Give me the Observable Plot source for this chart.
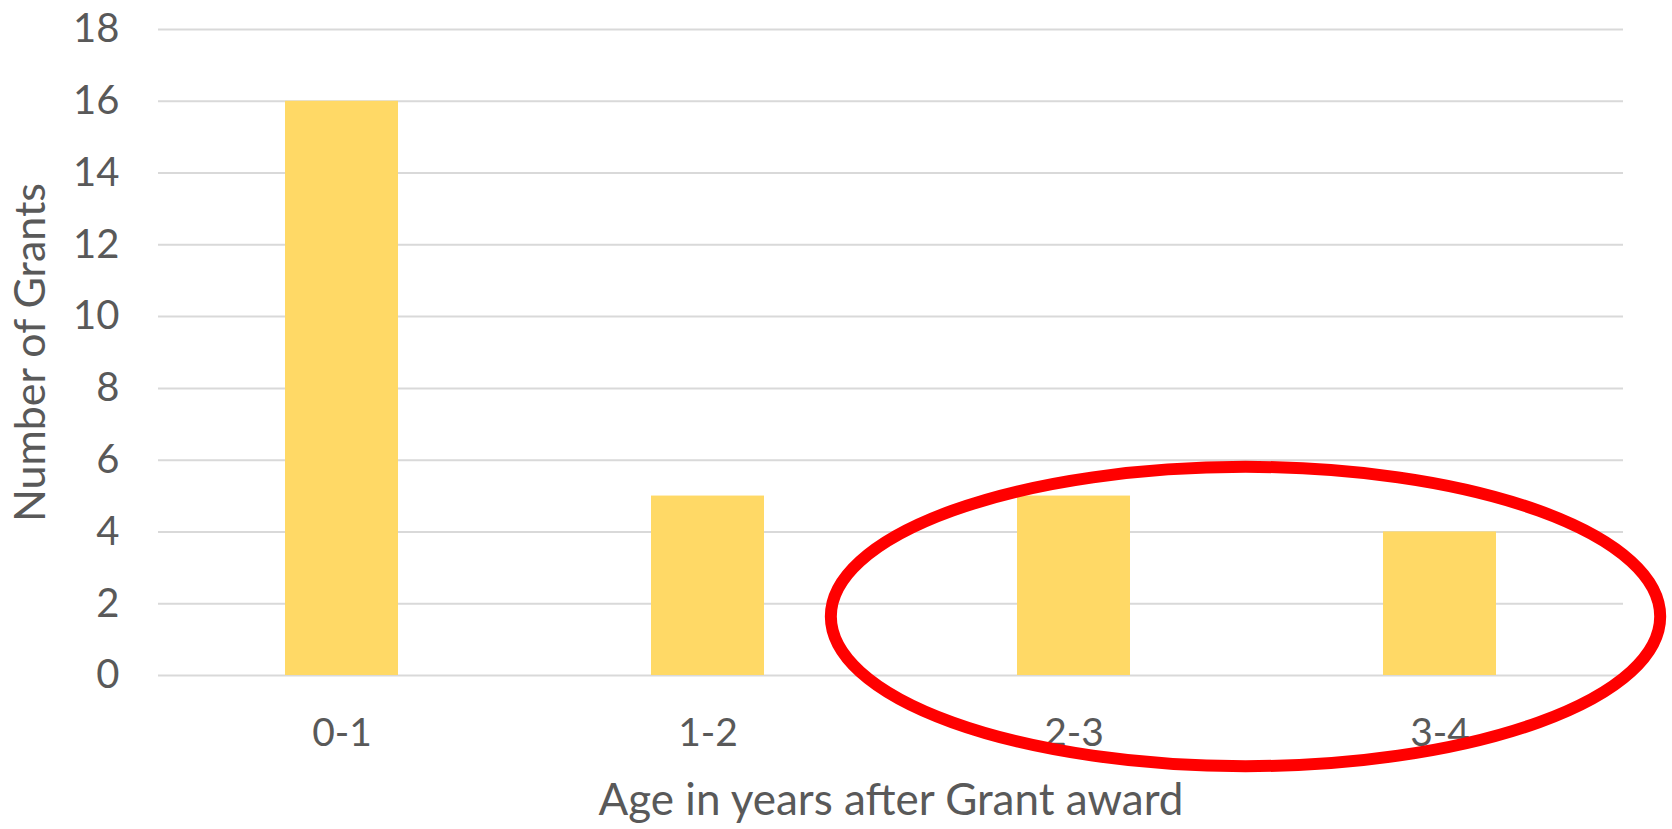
<!DOCTYPE html>
<html>
<head>
<meta charset="utf-8">
<script src="https://cdn.jsdelivr.net/npm/d3@7"></script>
<script src="https://cdn.jsdelivr.net/npm/@observablehq/plot@0.6"></script>
<style>
  html, body { margin: 0; padding: 0; background: #fff; }
  #chart svg { display: block; }
</style>
</head>
<body>
<div id="chart"></div>
<script>
// ---- data ----
const categories = ["0-1", "1-2", "2-3", "3-4"];
const grants = [16, 5, 5, 4];
const yTicks = [0, 2, 4, 6, 8, 10, 12, 14, 16, 18];
const xTitle = "Age in years after Grant award";
const yTitle = "Number of Grants";
// highlighted categories (red ring annotation)
const highlighted = ["2-3", "3-4"];
const ringCenterValue = 1.63;
const ringRadiusValue = 4.17;

const rows = categories.map((c, i) => ({ age: c, count: grants[i] }));

const textColor = "#595959";
const font = "Lato, 'Open Sans', sans-serif";

function ring(index, scales, values, dimensions) {
  const x = scales.x, y = scales.y;
  const bw = x.bandwidth ? x.bandwidth() : 0;
  const step = x.step ? x.step() : 366;
  const c0 = x(highlighted[0]) + bw / 2;
  const c1 = x(highlighted[highlighted.length - 1]) + bw / 2;
  const cx = (c0 + c1) / 2 - 0.03 * step;
  const rx = (c1 - c0) / 2 + 0.633 * step;
  const cy = y(ringCenterValue);
  const ry = Math.abs(y(ringCenterValue + ringRadiusValue) - cy);
  const g = d3.create("svg:g");
  g.append("ellipse")
    .attr("cx", cx).attr("cy", cy).attr("rx", rx).attr("ry", ry)
    .attr("fill", "none").attr("stroke", "#ff0000").attr("stroke-width", 12);
  return g.node();
}

const plot = Plot.plot({
  width: 1672,
  height: 829,
  marginLeft: 158,
  marginRight: 49,
  marginTop: 29,
  marginBottom: 154,
  style: { fontFamily: font, color: textColor, background: "#fff", overflow: "visible" },
  x: { domain: categories, paddingInner: 0.69, paddingOuter: 0.345, label: null },
  y: { domain: [0, 18], label: null },
  marks: [
    Plot.gridY(yTicks, { stroke: "#d9d9d9", strokeWidth: 2, strokeOpacity: 1 }),
    Plot.barY(rows, { x: "age", y: "count", fill: "#FFD966" }),
    Plot.axisY(yTicks, { tickSize: 0, tickPadding: 39, fontSize: 40, fill: textColor, label: null }),
    Plot.axisX(categories, { tickSize: 0, tickPadding: 43, fontSize: 39, fill: textColor, label: null }),
    Plot.text([xTitle], { frameAnchor: "bottom", dy: 139, fontSize: 44, fill: textColor }),
    Plot.text([yTitle], { frameAnchor: "left", textAnchor: "middle", rotate: -90, dx: -127, fontSize: 43, fill: textColor }),
    ring
  ]
});
document.getElementById("chart").appendChild(plot);
</script>
</body>
</html>
